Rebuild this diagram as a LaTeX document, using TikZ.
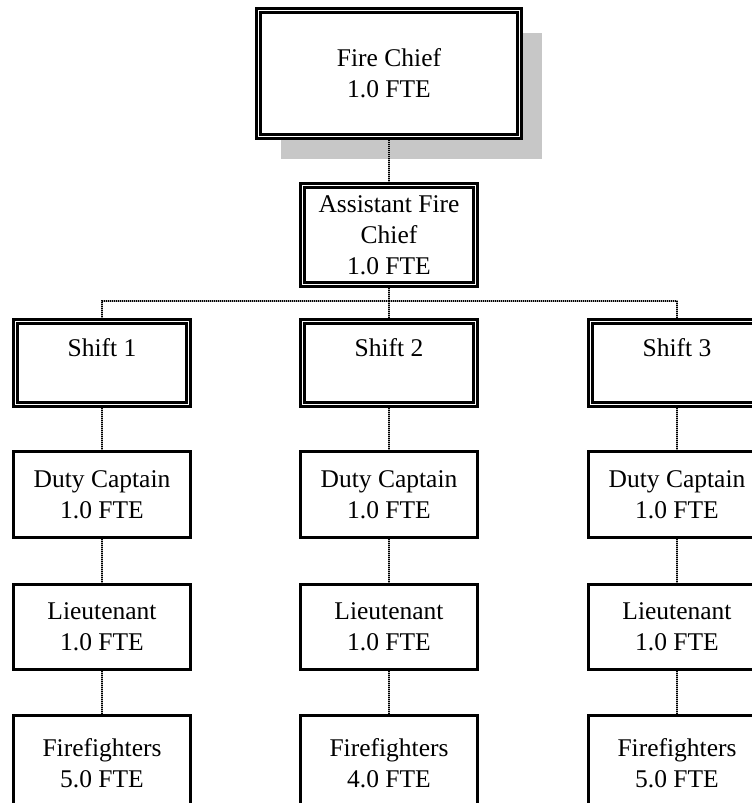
\documentclass[tikz,border=0pt]{standalone}
\usepackage{fontspec}
\setmainfont{Liberation Serif}
\usetikzlibrary{shadows}

\begin{document}
\begin{tikzpicture}[x=1pt, y=-1pt,
  every node/.style={font=\fontsize{25.5}{31}\selectfont, align=center, inner sep=0pt},
  box/.style={draw, line width=3pt, fill=white, minimum width=177pt, minimum height=86pt},
  dbox/.style={draw, line width=2.8pt, double, double distance=1.6pt, fill=white,
    outer sep=3.6pt, minimum width=173pt, minimum height=99pt},
  link/.style={draw=gray!70, line width=2pt, postaction={draw=black, dash pattern=on 1pt off 1pt}}]
  \useasboundingbox (0,0) rectangle (752,803);
  \clip (0,0) rectangle (752,803);
  \node[dbox, minimum width=261pt, minimum height=126pt,
    drop shadow={shadow xshift=22pt, shadow yshift=-22pt, opacity=1, fill=black!22}]
    (chief) at (389,73.5) {Fire Chief\\1.0 FTE};
  \node[dbox] (asst) at (389,235) {Assistant Fire\\Chief\\1.0 FTE};
  \coordinate (bus) at (389,301);
  \draw[link] (chief) -- (asst);
  \draw[link] (asst) -- (bus);
  \foreach \n/\x/\ff in {1/102/5.0, 2/389/4.0, 3/677/5.0} {
    \node[dbox, minimum height=83pt] (s\n) at (\x,363) {Shift \n\\\mbox{}};
    \node[box] (d\n) at (\x,494.5) {Duty Captain\\1.0 FTE};
    \node[box, minimum height=85pt] (l\n) at (\x,627) {Lieutenant\\1.0 FTE};
    \node[box, minimum height=95pt] (f\n) at (\x,763) {Firefighters\\\ff{} FTE};
    \draw[link] (bus) -| (s\n);
    \draw[link] (s\n) -- (d\n);
    \draw[link] (d\n) -- (l\n);
    \draw[link] (l\n) -- (f\n);
  }
\end{tikzpicture}
\end{document}
